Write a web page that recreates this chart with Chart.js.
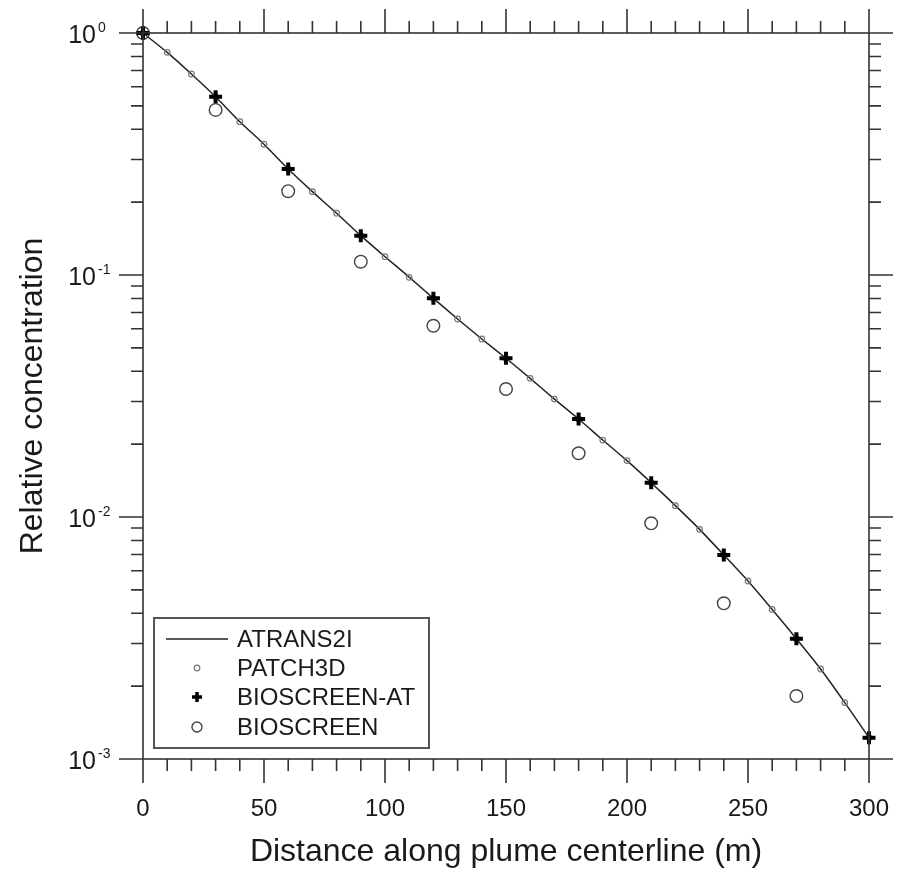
<!DOCTYPE html>
<html>
<head>
<meta charset="utf-8">
<script src="https://cdn.jsdelivr.net/npm/chart.js@4.4.1/dist/chart.umd.min.js"></script>
<style>
html,body{margin:0;padding:0;background:#fff;}
#wrap{width:906px;height:869px;}
</style>
</head>
<body>
<div id="wrap"><canvas id="plumeChart" width="906" height="869"></canvas></div>
<script>
// ---- data ----
// distance along the plume centerline (m)
var distance10 = [0,10,20,30,40,50,60,70,80,90,100,110,120,130,140,150,160,170,180,190,200,210,220,230,240,250,260,270,280,290,300];
var atrans2iConc = [1.0,0.832,0.677,0.545,0.430,0.347,0.274,0.221,0.180,0.1454,0.119,0.0980,0.0801,0.0658,0.0544,0.0453,0.0374,0.0307,0.0254,0.0208,0.0171,0.01386,0.01114,0.00889,0.00697,0.00544,0.00415,0.00314,0.002355,0.00171,0.001225];
var patch3dConc = [1.0,0.832,0.677,0.546,0.430,0.347,0.275,0.221,0.180,0.1455,0.119,0.0978,0.0801,0.0658,0.0544,0.0452,0.0374,0.0307,0.0254,0.0208,0.0171,0.01386,0.01114,0.00889,0.00697,0.00544,0.00415,0.00314,0.002355,0.00171,0.001225];
var bioscreenAtDist = [0,30,60,90,120,150,180,210,240,270,300];
var bioscreenAtConc = [1.0,0.545,0.274,0.1454,0.0801,0.0453,0.0254,0.01386,0.00697,0.00314,0.001225];
var bioscreenDist = [0,30,60,90,120,150,180,210,240,270];
var bioscreenConc = [1.0,0.481,0.222,0.1135,0.0617,0.0338,0.01834,0.00942,0.0044,0.00182];
var yDecades = [0,-1,-2,-3];
var seriesNames = ['ATRANS2I','PATCH3D','BIOSCREEN-AT','BIOSCREEN'];

function toPoints(xs, ys)
{
	return xs.map(function(x, i){ return {x:x, y:ys[i]}; });
}

var FONT = '"Liberation Sans", Arial, Helvetica, sans-serif';
var INK = '#1a1a1a';

// frame with ticks on all four sides, superscript y labels, boxed legend
var frameTicksLegend =
{
	id: 'frameTicksLegend',
	afterDatasetsDraw: function(chart)
	{
		var ctx = chart.ctx, a = chart.chartArea, xs = chart.scales.x, ys = chart.scales.y;
		ctx.save();
		ctx.strokeStyle = '#333';
		ctx.lineWidth = 1.6;
		ctx.strokeRect(a.left, a.top, a.right - a.left, a.bottom - a.top);

		ctx.beginPath();
		for (var v = 0; v <= 300; v += 10)
		{
			var px = xs.getPixelForValue(v);
			var len = (v % 50 === 0) ? 24 : 12;
			ctx.moveTo(px, a.bottom); ctx.lineTo(px, a.bottom + len);
			ctx.moveTo(px, a.top); ctx.lineTo(px, a.top - len);
		}
		yDecades.forEach(function(d)
		{
			var base = Math.pow(10, d);
			var py = ys.getPixelForValue(base);
			ctx.moveTo(a.left, py); ctx.lineTo(a.left - 24, py);
			ctx.moveTo(a.right, py); ctx.lineTo(a.right + 24, py);
			if (d < 0)
			{
				for (var k = 2; k <= 9; k++)
				{
					var pm = ys.getPixelForValue(k * base);
					ctx.moveTo(a.left, pm); ctx.lineTo(a.left - 12, pm);
					ctx.moveTo(a.right, pm); ctx.lineTo(a.right + 12, pm);
				}
			}
		});
		ctx.stroke();

		// y tick labels 10^n
		ctx.fillStyle = INK;
		yDecades.forEach(function(d)
		{
			var py = ys.getPixelForValue(Math.pow(10, d));
			ctx.font = '25px ' + FONT;
			ctx.textAlign = 'right';
			ctx.textBaseline = 'middle';
			ctx.fillText('10', 96, py + 3);
			ctx.font = '14px ' + FONT;
			ctx.textAlign = 'left';
			ctx.textBaseline = 'alphabetic';
			ctx.fillText(d === 0 ? '0' : '-' + (-d), 98, py - 1);
		});
		ctx.restore();
	},
	afterDraw: function(chart)
	{
		var ctx = chart.ctx;
		var box = {left:154, top:618, right:429, bottom:748};
		ctx.save();
		ctx.fillStyle = '#fff';
		ctx.fillRect(box.left, box.top, box.right - box.left, box.bottom - box.top);
		ctx.strokeStyle = '#555';
		ctx.lineWidth = 2;
		ctx.strokeRect(box.left, box.top, box.right - box.left, box.bottom - box.top);

		var sx = 197, rowY = [639, 668, 697, 727];
		chart.data.datasets.forEach(function(ds, i)
		{
			var y = rowY[i];
			ctx.beginPath();
			if (i === 0)
			{
				ctx.strokeStyle = ds.borderColor; ctx.lineWidth = ds.borderWidth;
				ctx.moveTo(166, y); ctx.lineTo(228, y); ctx.stroke();
			}
			else if (ds.pointStyle === 'cross')
			{
				ctx.strokeStyle = ds.borderColor; ctx.lineWidth = 3.5;
				ctx.moveTo(sx - 5, y); ctx.lineTo(sx + 5, y);
				ctx.moveTo(sx, y - 5); ctx.lineTo(sx, y + 5); ctx.stroke();
			}
			else
			{
				ctx.strokeStyle = ds.borderColor; ctx.lineWidth = ds.borderWidth;
				ctx.arc(sx, y, i === 1 ? 2.8 : 5, 0, Math.PI * 2); ctx.stroke();
			}
			ctx.fillStyle = INK;
			ctx.font = '24px ' + FONT;
			ctx.textAlign = 'left';
			ctx.textBaseline = 'middle';
			ctx.fillText(ds.label, 237, y + 1);
		});
		ctx.restore();
	}
};

var ChartCreator = new Chart(document.getElementById('plumeChart'), {
	type: 'scatter',
	data: {
		datasets: [
			{
				label: seriesNames[0],
				data: toPoints(distance10, atrans2iConc),
				showLine: true,
				borderColor: '#222',
				borderWidth: 1.5,
				tension: 0.2,
				pointRadius: 0,
				order: 4,
				clip: 10
			},
			{
				label: seriesNames[1],
				data: toPoints(distance10, patch3dConc),
				pointStyle: 'circle',
				pointRadius: 2.8,
				borderWidth: 1.2,
				borderColor: '#777',
				backgroundColor: 'rgba(255,255,255,0)',
				order: 3,
				clip: 10
			},
			{
				label: seriesNames[2],
				data: toPoints(bioscreenAtDist, bioscreenAtConc),
				pointStyle: 'cross',
				pointRadius: 6.5,
				borderWidth: 4,
				borderColor: '#000',
				order: 1,
				clip: 10
			},
			{
				label: seriesNames[3],
				data: toPoints(bioscreenDist, bioscreenConc),
				pointStyle: 'circle',
				pointRadius: 6.3,
				borderWidth: 1.4,
				borderColor: '#444',
				backgroundColor: 'rgba(255,255,255,0)',
				order: 2,
				clip: 10
			}
		]
	},
	options: {
		responsive: false,
		animation: false,
		devicePixelRatio: 1,
		layout: { padding: { top: 33, right: 37, left: 0, bottom: 0 } },
		plugins: { legend: { display: false }, tooltip: { enabled: false } },
		scales: {
			x: {
				type: 'linear',
				min: 0, max: 300,
				grid: { display: false, drawTicks: false },
				border: { display: false },
				ticks: { stepSize: 50, padding: 36, color: INK, font: { family: FONT, size: 24 } },
				title: { display: true, text: 'Distance along plume centerline (m)', color: INK,
					font: { family: FONT, size: 32, lineHeight: 1 }, padding: { top: 0, bottom: 1 } },
				afterFit: function(scale)
				{
					scale.height = 110;
					// label overhang is already covered by the layout padding
					scale.paddingLeft = 0;
					scale.paddingRight = 0;
				}
			},
			y: {
				type: 'logarithmic',
				min: 0.001, max: 1,
				grid: { display: false, drawTicks: false },
				border: { display: false },
				ticks: { display: false },
				title: { display: true, text: 'Relative concentration', color: INK,
					font: { family: FONT, size: 32, lineHeight: 1 }, padding: { top: 17, bottom: 0 } },
				afterFit: function(scale){ scale.width = 143; }
			}
		}
	},
	plugins: [frameTicksLegend]
});
</script>
</body>
</html>
